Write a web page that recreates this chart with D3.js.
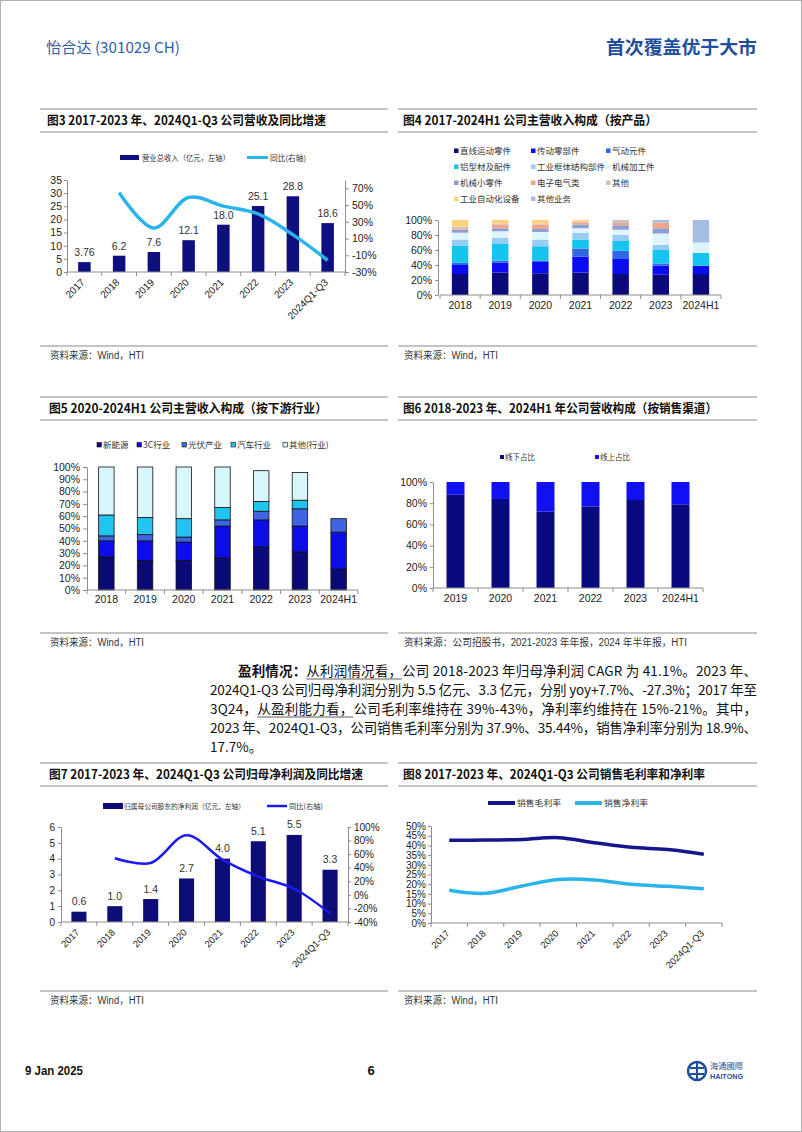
<!DOCTYPE html>
<html><head><meta charset="utf-8">
<script src="https://cdn.jsdelivr.net/npm/d3@7"></script>
<style>
body{margin:0;background:#fff}
svg{display:block}
</style></head><body><svg id="page" width="802" height="1132"></svg>
<script>
// ---------------- DATA ----------------
const fig3Cats = ["2017","2018","2019","2020","2021","2022","2023","2024Q1-Q3"];
const fig3Revenue = [3.76,6.2,7.6,12.1,18.0,25.1,28.8,18.6];
const fig3RevenueLabels = ["3.76","6.2","7.6","12.1","18.0","25.1","28.8","18.6"];
const fig3Yoy = [null,64.9,22.6,59.2,48.8,39.4,14.7,-16];
const fig3LeftTicks = [0,5,10,15,20,25,30,35];
const fig3RightTicks = [-30,-10,10,30,50,70];

const fig4Cats = ["2018","2019","2020","2021","2022","2023","2024H1"];
const fig4Names = ["直线运动零件","传动零部件","气动元件","铝型材及配件","工业框体结构部件","机械加工件","机械小零件","电子电气类","其他","工业自动化设备","其他业务"];
const fig4Linear   = [28,30,29,30,28,27,28];
const fig4Drive    = [12,13,15,21,20,12,11];
const fig4Pneum    = [3,3,2,11,11,3,0];
const fig4Alu      = [23,22,19,12,13,18,17];
const fig4Frame    = [8,8,9,9,8,7,0];
const fig4Machined = [9,9,10,6,7,15,14];
const fig4Small    = [4,4,4,5,6,7,0];
const fig4Elec     = [2,5,6,3,3,7,0];
const fig4Other    = [2,1,1,1,4,1,0];
const fig4Auto     = [9,5,5,2,0,0,0];
const fig4OtherBiz = [0,0,0,0,0,3,30];
const fig4Ticks = [0,20,40,60,80,100];

const fig5Cats = ["2018","2019","2020","2021","2022","2023","2024H1"];
const fig5Names = ["新能源","3C行业","光伏产业","汽车行业","其他(行业)"];
const fig5NewEnergy = [27,24,24,26,35,31,17];
const fig5C3        = [13,16,15,26,22,21,30];
const fig5PV        = [4,5,4,5,7,14,11];
const fig5Auto      = [17,14,15,10,8,7,0];
const fig5Other     = [39,41,42,33,25,22.5,0];
const fig5Ticks = [0,10,20,30,40,50,60,70,80,90,100];

const fig6Cats = ["2019","2020","2021","2022","2023","2024H1"];
const fig6Names = ["线下占比","线上占比"];
const fig6Offline = [88,84,72,77,83,79];
const fig6Online  = [12,16,28,23,17,21];
const fig6Ticks = [0,20,40,60,80,100];

const fig7Cats = ["2017","2018","2019","2020","2021","2022","2023","2024Q1-Q3"];
const fig7Profit = [0.65,1.0,1.45,2.75,4.0,5.1,5.5,3.3];
const fig7ProfitLabels = ["0.6","1.0","1.4","2.7","4.0","5.1","5.5","3.3"];
const fig7Yoy = [null,54,47,88,52,27,9,-27.3];
const fig7LeftTicks = [0,1,2,3,4,5,6];
const fig7RightTicks = [-40,-20,0,20,40,60,80,100];

const fig8Cats = ["2017","2018","2019","2020","2021","2022","2023","2024Q1-Q3"];
const fig8Gross = [42.6,42.8,43.0,44.0,41.4,39.0,37.9,35.44];
const fig8Net   = [16.9,15.3,19.1,22.4,22.2,20.0,18.9,17.7];
const fig8Ticks = [0,5,10,15,20,25,30,35,40,45,50];

// ---------------- HELPERS ----------------
const CJK = '"Noto Sans CJK SC", sans-serif';
const SANS = '"Liberation Sans", Arial, "Noto Sans CJK SC", sans-serif';
const LCOL = [40,388], RCOL = [398,757];
const svg = d3.select("#page");
svg.append("rect").attr("x",0).attr("y",0).attr("width",802).attr("height",1132).attr("fill","#fff");
svg.append("rect").attr("x",0.5).attr("y",0.5).attr("width",801).attr("height",1131)
  .attr("fill","none").attr("stroke","#b0b0b0").attr("stroke-width",1);

function txt(x,y,s,o={}){
  const t = svg.append("text").attr("x",x).attr("y",y).text(s)
    .attr("font-family",o.ff||SANS).attr("font-size",o.fs||10)
    .attr("fill",o.fill||"#222").attr("text-anchor",o.anchor||"start");
  if(o.fw) t.attr("font-weight",o.fw);
  if(o.len) t.attr("textLength",o.len).attr("lengthAdjust",o.adj||"spacingAndGlyphs");
  if(o.rot!=null) t.attr("transform",`rotate(${o.rot},${x},${y})`);
  return t;
}
function hline(x1,x2,y,c="#8a8a8a",w=1.2){
  svg.append("line").attr("x1",x1).attr("x2",x2).attr("y1",y).attr("y2",y)
    .attr("stroke",c).attr("stroke-width",w);
}
function figBox(col,yTop,yTitleLine,ySrc,title,titleX,titleEnd,srcParts,srcX,srcLen){
  hline(col[0],col[1],yTop);
  hline(col[0],col[1],yTitleLine);
  txt(titleX,yTop+16,title,{ff:CJK,fs:12.5,fw:"bold",fill:"#111",len:titleEnd-titleX});
  hline(col[0],col[1],ySrc);
  const t = txt(srcX,ySrc+13,"",{ff:CJK,fs:10,fill:"#333"});
  if(srcLen) t.attr("textLength",srcLen).attr("lengthAdjust","spacingAndGlyphs");
  srcParts.forEach(p=>{
    const ts=t.append("tspan").text(p[0]);
    if(p[1]) ts.attr("font-family",SANS);
  });
}
function styleAxis(g,fs){
  g.selectAll("path,line").attr("stroke","#8c8c8c").attr("stroke-width",1);
  g.selectAll("text").attr("font-family",SANS).attr("font-size",fs).attr("fill","#222");
}
function bandXAxis(x,y0,fs,rotate,labelDy){
  const r = x.range(), step = x.step();
  svg.append("line").attr("x1",r[0]).attr("x2",r[1]).attr("y1",y0).attr("y2",y0)
    .attr("stroke","#8c8c8c").attr("stroke-width",1);
  x.domain().forEach(c=>{
    const bx = x(c);
    svg.append("line").attr("x1",bx).attr("x2",bx).attr("y1",y0).attr("y2",y0+4).attr("stroke","#8c8c8c");
  });
  svg.append("line").attr("x1",r[1]).attr("x2",r[1]).attr("y1",y0).attr("y2",y0+4).attr("stroke","#8c8c8c");
  x.domain().forEach(c=>{
    const cx = x(c)+step/2;
    if(rotate){
      txt(cx+1,y0+11,c,{fs:fs,anchor:"end",rot:-45,fill:"#222"});
    } else {
      txt(cx,y0+labelDy,c,{fs:fs,anchor:"middle",fill:"#222"});
    }
  });
}
const pct = d=>d+"%";
const SRC_WIND = [["资料来源：",0],["Wind，HTI",1]];

// ---------------- HEADER / FOOTER ----------------
txt(46,53,"怡合达 (301029 CH)",{ff:CJK,fs:15,fill:"#2f5ea8",len:134});
txt(757,54,"首次覆盖优于大市",{ff:CJK,fs:18,fw:"bold",fill:"#1f4e9c",anchor:"end",len:151});
txt(25,1075,"9 Jan 2025",{fs:13,fw:"bold",fill:"#111",len:58});
txt(371,1075,"6",{fs:13,fw:"bold",fill:"#111",anchor:"middle"});
// logo
svg.append("circle").attr("cx",697).attr("cy",1071).attr("r",9).attr("fill","none").attr("stroke","#1f4e9c").attr("stroke-width",2.5);
svg.append("path").attr("d","M690,1068 H704 M690,1074 H704 M697,1062 V1080").attr("stroke","#1f4e9c").attr("stroke-width",2);
txt(710,1069,"海通國際",{ff:CJK,fs:8,fill:"#1f4e9c",len:33});
txt(710,1079,"HAITONG",{fs:8,fw:"bold",fill:"#1f4e9c",len:33});

// ---------------- FIGURE BOXES ----------------
figBox(LCOL,109,132,346,"图3  2017-2023 年、2024Q1-Q3 公司营收及同比增速",47,326,SRC_WIND,50,94);
figBox(RCOL,109,132,346,"图4  2017-2024H1 公司主营收入构成（按产品）",403,657,SRC_WIND,404,94);
figBox(LCOL,397,420,633,"图5  2020-2024H1 公司主营收入构成（按下游行业）",49,327,SRC_WIND,50,94);
figBox(RCOL,397,420,633,"图6  2018-2023 年、2024H1 年公司营收构成（按销售渠道）",403,717,
  [["资料来源：公司招股书，",0],["2021-2023 ",1],["年年报，",0],["2024 ",1],["年半年报，",0],["HTI",1]],404,283);
figBox(LCOL,763,786,991,"图7  2017-2023 年、2024Q1-Q3 公司归母净利润及同比增速",49,363,SRC_WIND,50,94);
figBox(RCOL,763,786,991,"图8  2017-2023 年、2024Q1-Q3 公司销售毛利率和净利率",403,705,SRC_WIND,404,94);

// ---------------- FIG 3 ----------------
(function(){
  const NAVY="#0f0f7e", LB="#2ab4ea";
  const x = d3.scaleBand().domain(fig3Cats).range([67,345]);
  const yL = d3.scaleLinear().domain([0,35]).range([272,180]);
  const yR = d3.scaleLinear().domain([-30,80]).range([272,180]);
  const bw = x.step()*0.36;
  svg.append("rect").attr("x",120).attr("y",155).attr("width",19).attr("height",5).attr("fill",NAVY);
  txt(142,160.5,"营业总收入（亿元，左轴）",{ff:CJK,fs:7.5,fill:"#333",len:88});
  svg.append("line").attr("x1",247).attr("x2",268).attr("y1",157.5).attr("y2",157.5).attr("stroke",LB).attr("stroke-width",3);
  txt(270,160.5,"同比(右轴)",{ff:CJK,fs:7.5,fill:"#333",len:36});
  const gl = svg.append("g").attr("transform","translate(67,0)")
    .call(d3.axisLeft(yL).tickValues(fig3LeftTicks).tickSize(3).tickPadding(2).tickSizeOuter(0));
  styleAxis(gl,10.5);
  const gr = svg.append("g").attr("transform","translate(345,0)")
    .call(d3.axisRight(yR).tickValues(fig3RightTicks).tickFormat(pct).tickSize(4).tickPadding(3).tickSizeOuter(0));
  styleAxis(gr,10.5);
  svg.selectAll(null).data(fig3Revenue).enter().append("rect")
    .attr("x",(d,i)=>x(fig3Cats[i])+(x.step()-bw)/2).attr("width",bw)
    .attr("y",d=>yL(d)).attr("height",d=>yL(0)-yL(d)).attr("fill",NAVY);
  fig3Revenue.forEach((d,i)=>txt(x(fig3Cats[i])+x.step()/2,yL(d)-6,fig3RevenueLabels[i],{fs:10.5,anchor:"middle",fill:"#333"}));
  bandXAxis(x,272,10,true);
  const pts = fig3Yoy.map((v,i)=>v==null?null:[x(fig3Cats[i])+x.step()/2,yR(v)]).filter(Boolean);
  svg.append("path").attr("d",d3.line().curve(d3.curveCatmullRom.alpha(0.5))(pts))
    .attr("fill","none").attr("stroke",LB).attr("stroke-width",3.5);
})();

// ---------------- FIG 4 ----------------
(function(){
  const colors = ["#0a0a78","#0c0cf0","#3366e6","#16c4f0","#99ccf5","#dff5fd","#8c9fd6","#f2a488","#c6c6c6","#fbd17c","#a4bde2"];
  const series = [fig4Linear,fig4Drive,fig4Pneum,fig4Alu,fig4Frame,fig4Machined,fig4Small,fig4Elec,fig4Other,fig4Auto,fig4OtherBiz];
  const x = d3.scaleBand().domain(fig4Cats).range([440,721]);
  const y = d3.scaleLinear().domain([0,100]).range([295,220]);
  const bw = x.step()*0.41;
  const colX=[454,531,606], rowY=[151,167,183,199];
  fig4Names.forEach((n,i)=>{
    const cx=colX[i%3], cy=rowY[Math.floor(i/3)];
    svg.append("rect").attr("x",cx).attr("y",cy-2.5).attr("width",4.5).attr("height",4.5).attr("fill",colors[i]);
    txt(cx+6,cy+3,n,{ff:CJK,fs:8.5,fill:"#333"});
  });
  const g = svg.append("g").attr("transform","translate(438,0)")
    .call(d3.axisLeft(y).tickValues(fig4Ticks).tickFormat(pct).tickSize(3).tickPadding(3).tickSizeOuter(0));
  styleAxis(g,10.5);
  const rows = fig4Cats.map((c,j)=>{const o={cat:c}; series.forEach((s,i)=>o["s"+i]=s[j]); return o;});
  const stack = d3.stack().keys(series.map((s,i)=>"s"+i))(rows);
  stack.forEach((layer,i)=>{
    svg.selectAll(null).data(layer).enter().append("rect")
      .attr("x",d=>x(d.data.cat)+(x.step()-bw)/2).attr("width",bw)
      .attr("y",d=>y(d[1])).attr("height",d=>y(d[0])-y(d[1])).attr("fill",colors[i]);
  });
  bandXAxis(x,295,10.5,false,14);
})();

// ---------------- FIG 5 ----------------
(function(){
  const colors = ["#0a0a78","#0d0de8","#3f66e0","#20c4ee","#d8f7fd"];
  const series = [fig5NewEnergy,fig5C3,fig5PV,fig5Auto,fig5Other];
  const x = d3.scaleBand().domain(fig5Cats).range([87,358]);
  const y = d3.scaleLinear().domain([0,100]).range([590,467]);
  const bw = x.step()*0.40;
  const lx=[97,137,182,231,283];
  fig5Names.forEach((n,i)=>{
    svg.append("rect").attr("x",lx[i]).attr("y",442.5).attr("width",4.5).attr("height",4.5).attr("fill",colors[i]).attr("stroke","#111").attr("stroke-width",0.6);
    txt(lx[i]+6,448,n,{ff:CJK,fs:8.5,fill:"#333"});
  });
  const g = svg.append("g").attr("transform","translate(87,0)")
    .call(d3.axisLeft(y).tickValues(fig5Ticks).tickFormat(pct).tickSize(4).tickPadding(3).tickSizeOuter(0));
  styleAxis(g,10.5);
  const rows = fig5Cats.map((c,j)=>{const o={cat:c}; series.forEach((s,i)=>o["s"+i]=s[j]); return o;});
  const stack = d3.stack().keys(series.map((s,i)=>"s"+i))(rows);
  stack.forEach((layer,i)=>{
    svg.selectAll(null).data(layer.filter(d=>d[1]>d[0])).enter().append("rect")
      .attr("x",d=>x(d.data.cat)+(x.step()-bw)/2).attr("width",bw)
      .attr("y",d=>y(d[1])).attr("height",d=>y(d[0])-y(d[1])).attr("fill",colors[i])
      .attr("stroke","#111").attr("stroke-width",0.8);
  });
  bandXAxis(x,590,10.5,false,13);
})();

// ---------------- FIG 6 ----------------
(function(){
  const colors = ["#0a0a80","#1010f0"];
  const series = [fig6Offline,fig6Online];
  const x = d3.scaleBand().domain(fig6Cats).range([433,703]);
  const y = d3.scaleLinear().domain([0,100]).range([588,482]);
  const bw = x.step()*0.40;
  const lx=[500,595];
  fig6Names.forEach((n,i)=>{
    svg.append("rect").attr("x",lx[i]).attr("y",455).attr("width",4).attr("height",4).attr("fill",colors[i]);
    txt(lx[i]+5,460,n,{ff:CJK,fs:7.5,fill:"#333"});
  });
  const g = svg.append("g").attr("transform","translate(433,0)")
    .call(d3.axisLeft(y).tickValues(fig6Ticks).tickFormat(pct).tickSize(3).tickPadding(3).tickSizeOuter(0));
  styleAxis(g,10.5);
  const rows = fig6Cats.map((c,j)=>({cat:c,s0:series[0][j],s1:series[1][j]}));
  const stack = d3.stack().keys(["s0","s1"])(rows);
  stack.forEach((layer,i)=>{
    svg.selectAll(null).data(layer).enter().append("rect")
      .attr("x",d=>x(d.data.cat)+(x.step()-bw)/2).attr("width",bw)
      .attr("y",d=>y(d[1])).attr("height",d=>y(d[0])-y(d[1])).attr("fill",colors[i]);
  });
  bandXAxis(x,588,10.5,false,14);
})();

// ---------------- PARAGRAPH ----------------
(function(){
  const R = 757;
  const lines = [
    {x:238,y:676,parts:[["盈利情况：","b"],["从利润情况看，","u"],["公司 2018-2023 年归母净利润 CAGR 为 41.1%。2023 年、",""]]},
    {x:210,y:695,parts:[["2024Q1-Q3 公司归母净利润分别为 5.5 亿元、3.3 亿元，分别 yoy+7.7%、-27.3%；2017 年至",""]]},
    {x:210,y:714,parts:[["3Q24，",""],["从盈利能力看，","u"],["公司毛利率维持在 39%-43%，净利率约维持在 15%-21%。其中，",""]]},
    {x:210,y:733,parts:[["2023 年、2024Q1-Q3，公司销售毛利率分别为 37.9%、35.44%，销售净利率分别为 18.9%、",""]]},
    {x:210,y:752,parts:[["17.7%。",""]],nojust:true}
  ];
  lines.forEach(L=>{
    const t = svg.append("text").attr("x",L.x).attr("y",L.y).attr("font-family",CJK).attr("font-size",13.5).attr("fill","#111");
    if(!L.nojust) t.attr("textLength",R-L.x).attr("lengthAdjust","spacing");
    let idx=0; const ul=[];
    L.parts.forEach(p=>{
      const ts=t.append("tspan").text(p[0]);
      if(p[1]==="b") ts.attr("font-weight","bold");
      if(p[1]==="u") ul.push([idx, idx+p[0].length-1]);
      idx+=p[0].length;
    });
    ul.forEach(([a,b])=>{
      const n=t.node();
      const s=n.getStartPositionOfChar(a).x, e=n.getEndPositionOfChar(b).x;
      svg.append("line").attr("x1",s).attr("x2",e).attr("y1",L.y+3).attr("y2",L.y+3).attr("stroke","#333").attr("stroke-width",0.8);
    });
  });
})();

// ---------------- FIG 7 ----------------
(function(){
  const NAVY="#0d0d78", BL="#1a1aee";
  const x = d3.scaleBand().domain(fig7Cats).range([61,348]);
  const yL = d3.scaleLinear().domain([0,6]).range([922,827]);
  const yR = d3.scaleLinear().domain([-40,100]).range([922,827]);
  const bw = x.step()*0.42;
  svg.append("rect").attr("x",103).attr("y",803).attr("width",20).attr("height",6).attr("fill",NAVY);
  txt(124,809,"归属母公司股东的净利润（亿元，左轴）",{ff:CJK,fs:7,fill:"#333",len:121});
  svg.append("line").attr("x1",267).attr("x2",287).attr("y1",806).attr("y2",806).attr("stroke",BL).attr("stroke-width",2.5);
  txt(289,809,"同比(右轴)",{ff:CJK,fs:7,fill:"#333",len:34});
  const gl = svg.append("g").attr("transform","translate(61,0)")
    .call(d3.axisLeft(yL).tickValues(fig7LeftTicks).tickFormat(d3.format("d")).tickSize(3).tickPadding(3).tickSizeOuter(0));
  styleAxis(gl,10);
  const gr = svg.append("g").attr("transform","translate(348,0)")
    .call(d3.axisRight(yR).tickValues(fig7RightTicks).tickFormat(pct).tickSize(3).tickPadding(3).tickSizeOuter(0));
  styleAxis(gr,10);
  svg.selectAll(null).data(fig7Profit).enter().append("rect")
    .attr("x",(d,i)=>x(fig7Cats[i])+(x.step()-bw)/2).attr("width",bw)
    .attr("y",d=>yL(d)).attr("height",d=>yL(0)-yL(d)).attr("fill",NAVY);
  fig7Profit.forEach((d,i)=>txt(x(fig7Cats[i])+x.step()/2,yL(d)-6.5,fig7ProfitLabels[i],{fs:10.5,anchor:"middle",fill:"#333"}));
  bandXAxis(x,922,9.5,true);
  const pts = fig7Yoy.map((v,i)=>v==null?null:[x(fig7Cats[i])+x.step()/2,yR(v)]).filter(Boolean);
  svg.append("path").attr("d",d3.line().curve(d3.curveCatmullRom.alpha(0.5))(pts))
    .attr("fill","none").attr("stroke",BL).attr("stroke-width",2.5);
})();

// ---------------- FIG 8 ----------------
(function(){
  const NAVY="#16168c", LB="#2ab4ea";
  const x = d3.scaleBand().domain(fig8Cats).range([431,722]);
  const y = d3.scaleLinear().domain([0,50]).range([923,826]);
  svg.append("line").attr("x1",488).attr("x2",515).attr("y1",803).attr("y2",803).attr("stroke",NAVY).attr("stroke-width",4);
  txt(517,806,"销售毛利率",{ff:CJK,fs:8.5,fill:"#333",len:44});
  svg.append("line").attr("x1",575).attr("x2",602).attr("y1",803).attr("y2",803).attr("stroke",LB).attr("stroke-width",4);
  txt(604,806,"销售净利率",{ff:CJK,fs:8.5,fill:"#333",len:44});
  const g = svg.append("g").attr("transform","translate(431,0)")
    .call(d3.axisLeft(y).tickValues(fig8Ticks).tickFormat(pct).tickSize(3).tickPadding(2).tickSizeOuter(0));
  styleAxis(g,10);
  bandXAxis(x,923,9.5,true);
  [[fig8Gross,NAVY],[fig8Net,LB]].forEach(([s,c])=>{
    const pts = s.map((v,i)=>[x(fig8Cats[i])+x.step()/2,y(v)]);
    svg.append("path").attr("d",d3.line().curve(d3.curveCatmullRom.alpha(0.5))(pts))
      .attr("fill","none").attr("stroke",c).attr("stroke-width",3.5);
  });
})();
</script></body></html>
